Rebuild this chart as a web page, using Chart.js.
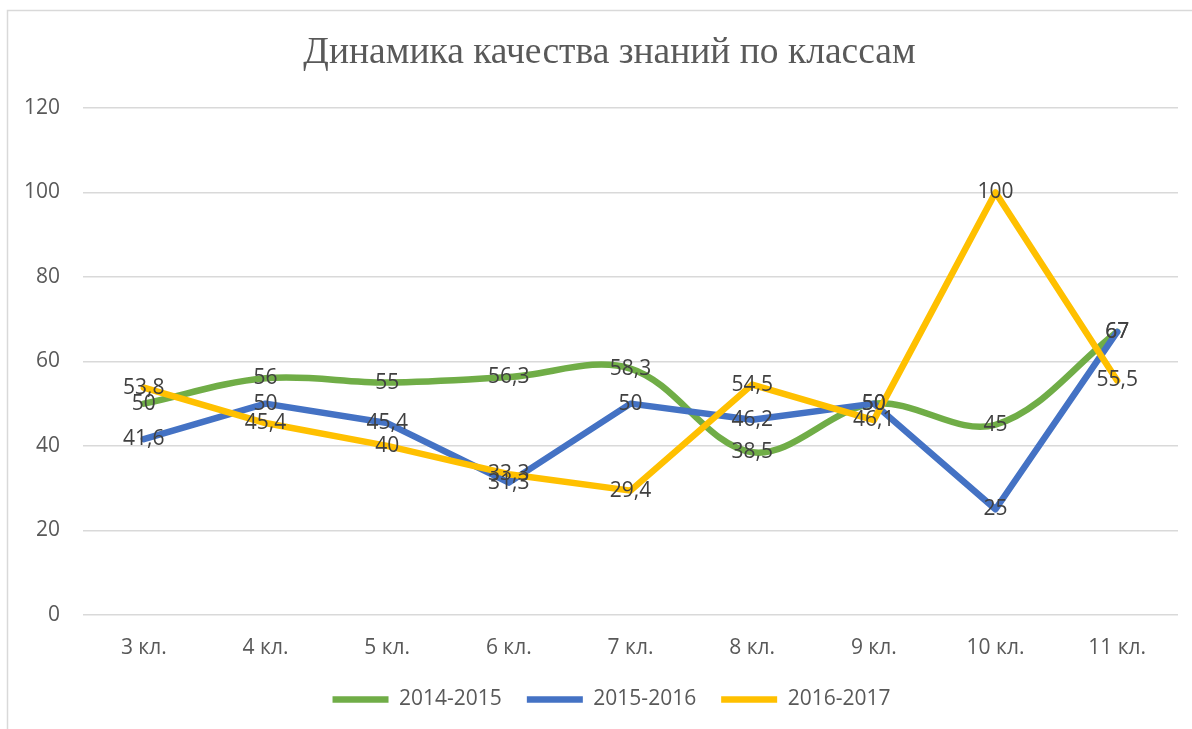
<!DOCTYPE html>
<html>
<head>
<meta charset="utf-8">
<script src="https://cdn.jsdelivr.net/npm/chart.js@4.4.1/dist/chart.umd.min.js"></script>
<style>
  html, body { margin: 0; padding: 0; background: #fff; overflow: hidden; width: 1192px; height: 729px; }
  #wrap { position: absolute; left: 0; top: 0; width: 1218px; height: 740px; }
</style>
</head>
<body>
<div id="wrap"><canvas id="c" width="1218" height="740"></canvas></div>
<script>
const chartTitle = 'Динамика качества знаний по классам';
const categories = ['3 кл.', '4 кл.', '5 кл.', '6 кл.', '7 кл.', '8 кл.', '9 кл.', '10 кл.', '11 кл.'];
const seriesNames = ['2014-2015', '2015-2016', '2016-2017'];
const values2014 = [50, 56, 55, 56.3, 58.3, 38.5, 50, 45, 67];
const values2015 = [41.6, 50, 45.4, 31.3, 50, 46.2, 50, 25, 67];
const values2016 = [53.8, 45.4, 40, 33.3, 29.4, 54.5, 46.1, 100, 55.5];
const yTicks = [0, 20, 40, 60, 80, 100, 120];

const frameAndLabels = {
  id: 'frameAndLabels',
  afterLayout(chart) {
    if (chart.legend) { chart.legend.left += 11; chart.legend.right += 11; }
    if (chart.titleBlock) { chart.titleBlock.left += 9; chart.titleBlock.right += 9; }
  },
  beforeDraw(chart) {
    const ctx = chart.ctx;
    ctx.save();
    ctx.fillStyle = '#ffffff';
    ctx.fillRect(0, 0, chart.width, chart.height);
    ctx.strokeStyle = '#d9d9d9';
    ctx.lineWidth = 1.5;
    ctx.strokeRect(7.5, 10.5, 1400, 900);
    ctx.restore();
  },
  afterDatasetsDraw(chart) {
    const ctx = chart.ctx;
    ctx.save();
    ctx.font = '21px "Open Sans"';
    ctx.fillStyle = '#404040';
    ctx.textAlign = 'center';
    ctx.textBaseline = 'middle';
    chart.data.datasets.forEach((ds, i) => {
      const meta = chart.getDatasetMeta(i);
      meta.data.forEach((pt, j) => {
        const v = ds.data[j];
        ctx.fillText(String(v).replace('.', ','), pt.x, pt.y);
      });
    });
    ctx.restore();
  }
};

new Chart(document.getElementById('c'), {
  type: 'line',
  data: {
    labels: categories,
    datasets: [
      { label: seriesNames[0], data: values2014, borderColor: '#70AD47', backgroundColor: '#70AD47',
        borderWidth: 6.5, tension: 0.35, pointRadius: 0, borderCapStyle: 'round', borderJoinStyle: 'round', order: 2 },
      { label: seriesNames[1], data: values2015, borderColor: '#4472C4', backgroundColor: '#4472C4',
        borderWidth: 6.5, tension: 0, pointRadius: 0, borderCapStyle: 'round', borderJoinStyle: 'round', order: 1 },
      { label: seriesNames[2], data: values2016, borderColor: '#FFC000', backgroundColor: '#FFC000',
        borderWidth: 6.5, tension: 0, pointRadius: 0, borderCapStyle: 'round', borderJoinStyle: 'round', order: 0 }
    ]
  },
  options: {
    responsive: false,
    animation: false,
    devicePixelRatio: 1,
    layout: { padding: { left: 23, right: 40, top: 0, bottom: 20 } },
    plugins: {
      title: {
        display: true,
        text: chartTitle,
        color: '#595959',
        font: { family: '"Liberation Serif"', size: 37.5, weight: 'normal' },
        padding: { top: 31, bottom: 32 }
      },
      legend: {
        display: true,
        position: 'bottom',
        labels: {
          sort: (a, b) => a.datasetIndex - b.datasetIndex,
          usePointStyle: true,
          pointStyle: 'line',
          pointStyleWidth: 56,
          color: '#595959',
          font: { family: '"Open Sans"', size: 21 },
          padding: 25
        }
      },
      tooltip: { enabled: false }
    },
    scales: {
      x: {
        offset: true,
        grid: { display: false, drawTicks: false },
        border: { display: false },
        ticks: { color: '#595959', font: { family: '"Open Sans"', size: 21 }, padding: 21 },
        afterFit(scale) { scale.height -= 18; }
      },
      y: {
        min: 0, max: 120,
        afterBuildTicks(scale) { scale.ticks = yTicks.map(v => ({ value: v })); },
        afterFit(scale) { scale.width = 60; },
        grid: { color: '#d9d9d9', lineWidth: 1.5, drawTicks: false },
        border: { display: false },
        ticks: { color: '#595959', font: { family: '"Open Sans"', size: 21 }, padding: 23 }
      }
    }
  },
  plugins: [frameAndLabels]
});
</script>
</body>
</html>
